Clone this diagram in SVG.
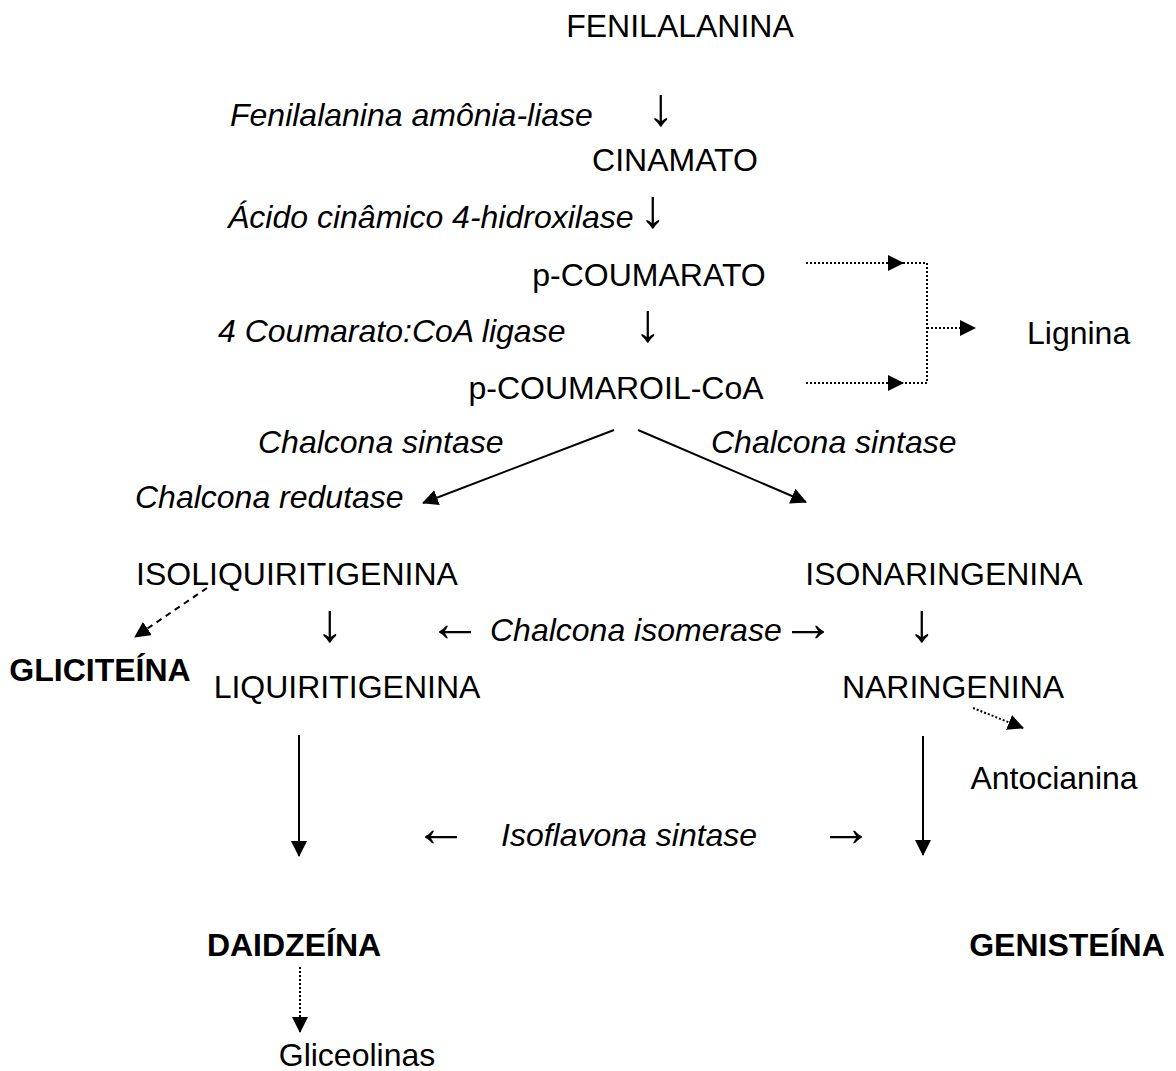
<svg xmlns="http://www.w3.org/2000/svg" width="1176" height="1071" viewBox="0 0 1176 1071">
<style>
text{font-family:"Liberation Sans",Arial,"DejaVu Sans",sans-serif;font-size:32px;fill:#000}
.i{font-style:italic}
.b{font-weight:bold}
.m{text-anchor:middle}
.ar{font-family:"Liberation Serif","DejaVu Serif",serif;font-size:54px;text-anchor:middle}
.solid{stroke:#000;stroke-width:2;fill:none}
.dot{stroke:#000;stroke-width:2;stroke-dasharray:2 2;fill:none}
.dash{stroke:#000;stroke-width:2;stroke-dasharray:6 5;fill:none}
</style>
<defs>
<marker id="ah" markerUnits="userSpaceOnUse" markerWidth="16" markerHeight="16" viewBox="0 0 16 16" refX="15" refY="8" orient="auto">
<path d="M0,0 L16,8 L0,16 Z" fill="#000"/>
</marker>
</defs>
<rect width="1176" height="1071" fill="#fff"/>
<g id="fenilalanina"><text class="m" x="680" y="37">FENILALANINA</text></g>
<g id="pal"><text class="i" x="230" y="126">Fenilalanina amônia-liase</text><text class="ar" x="661" y="125">↓</text></g>
<g id="cinamato"><text class="m" x="675" y="171">CINAMATO</text></g>
<g id="c4h"><text class="i" x="228" y="228">Ácido cinâmico 4-hidroxilase</text><text class="ar" x="653" y="227">↓</text></g>
<g id="pcoumarato"><text class="m" x="649" y="286">p-COUMARATO</text></g>
<g id="4cl"><text class="i" x="218" y="342">4 Coumarato:CoA ligase</text><text class="ar" x="648" y="341">↓</text></g>
<g id="lignina"><text x="1027" y="344">Lignina</text></g>
<g id="pcoumaroil"><text class="m" x="616" y="399">p-COUMAROIL-CoA</text></g>
<g id="chs-left"><text class="i" x="258" y="453">Chalcona sintase</text></g>
<g id="chs-right"><text class="i" x="711" y="453">Chalcona sintase</text></g>
<g id="chr"><text class="i" x="135" y="508">Chalcona redutase</text></g>
<g id="isoliquiritigenina"><text class="m" x="297" y="585">ISOLIQUIRITIGENINA</text></g>
<g id="isonaringenina"><text class="m" x="944" y="585">ISONARINGENINA</text></g>
<g id="chi"><text class="ar" x="330" y="641">↓</text><text class="ar" x="455" y="641">←</text><text class="i" x="490" y="641">Chalcona isomerase</text><text class="ar" x="808" y="641">→</text><text class="ar" x="922" y="641">↓</text></g>
<g id="gliciteina"><text class="b m" x="100" y="681">GLICITEÍNA</text></g>
<g id="liquiritigenina"><text class="m" x="347" y="698">LIQUIRITIGENINA</text></g>
<g id="naringenina"><text class="m" x="953" y="698">NARINGENINA</text></g>
<g id="antocianina"><text class="m" x="1054" y="789">Antocianina</text></g>
<g id="ifs"><text class="ar" x="441" y="846">←</text><text class="i" x="501" y="846">Isoflavona sintase</text><text class="ar" x="846" y="846">→</text></g>
<g id="daidzeina"><text class="b m" x="294" y="956">DAIDZEÍNA</text></g>
<g id="genisteina"><text class="b m" x="1067" y="956">GENISTEÍNA</text></g>
<g id="gliceolinas"><text class="m" x="357" y="1066">Gliceolinas</text></g>
<g id="connectors">
<line class="dot" x1="806" y1="263" x2="903" y2="263" marker-end="url(#ah)"/>
<polyline class="dot" points="903,263 927,263 927,383 903,383"/>
<line class="dot" x1="806" y1="383" x2="903" y2="383" marker-end="url(#ah)"/>
<line class="dot" x1="927" y1="328" x2="975" y2="328" marker-end="url(#ah)"/>
<line class="solid" x1="614" y1="430" x2="423" y2="503" marker-end="url(#ah)"/>
<line class="solid" x1="638" y1="430" x2="806" y2="502" marker-end="url(#ah)"/>
<line class="dash" x1="207" y1="588" x2="135" y2="637" marker-end="url(#ah)"/>
<line class="dot" x1="973" y1="708" x2="1023" y2="728" marker-end="url(#ah)"/>
<line class="solid" x1="299" y1="735" x2="299" y2="856" marker-end="url(#ah)"/>
<line class="solid" x1="923" y1="736" x2="923" y2="855" marker-end="url(#ah)"/>
<line class="dot" x1="300" y1="967" x2="300" y2="1032" marker-end="url(#ah)"/>
</g>
</svg>
